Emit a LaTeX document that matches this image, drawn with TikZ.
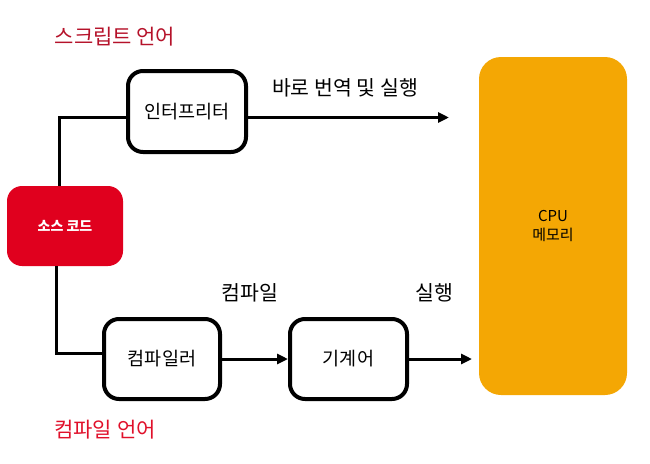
\documentclass[tikz,border=0pt]{standalone}
\usepackage{fontspec}
\setmainfont{Noto Sans CJK KR}
\usetikzlibrary{arrows.meta}
\definecolor{srcred}{HTML}{E0001E}
\definecolor{titlered}{HTML}{B5122A}
\definecolor{titlered2}{HTML}{E0102A}
\definecolor{cpuorange}{HTML}{F4A704}
\tikzset{
  procbox/.style={draw=black, line width=4pt, rounded corners=15pt, fill=white,
    inner sep=0pt, font=\fontsize{18.5}{22}\selectfont},
  conn/.style={line width=3pt},
  arr/.style={line width=3pt, -{Triangle[length=11pt,width=10pt]}},
  lbl/.style={font=\fontsize{20.5}{24}\selectfont},
  ttl/.style={font=\fontsize{21}{25}\selectfont},
}
\begin{document}
\begin{tikzpicture}[x=1pt,y=-1pt]
\useasboundingbox (0,0) rectangle (650,463);
% title labels
\node[ttl, text=titlered] (t1) at (115,37) {스크립트 언어};
\node[ttl, text=titlered2] (t2) at (105,430) {컴파일 언어};
% source code
\node[fill=srcred, rounded corners=15pt, minimum width=116pt, minimum height=80pt,
  text=white, font=\fontsize{14}{16}\selectfont\bfseries] (src) at (65,226) {소스 코드};
% interpreter
\node[procbox, minimum width=118pt, minimum height=81pt] (interp) at (187,111.5) {인터프리터};
% compiler
\node[procbox, minimum width=116pt, minimum height=80pt] (comp) at (162,359) {컴파일러};
% machine code
\node[procbox, minimum width=117pt, minimum height=80pt] (mach) at (348.5,359) {기계어};
% cpu
\node[fill=cpuorange, rounded corners=22pt, minimum width=148pt, minimum height=338pt,
  align=center, font=\fontsize{15}{19}\selectfont] (cpu) at (553,226) {CPU\\메모리};
% connectors
\draw[conn] ([xshift=-6pt]src.north) |- ([yshift=-6pt]interp.west);
\draw[conn] ([xshift=-9pt]src.south) |- ([yshift=6pt]comp.west);
\coordinate (e1) at (449,117.5);
\draw[arr] (interp.east |- e1) -- (e1);
\draw[arr] (comp.east) -- (mach.west);
\coordinate (e2) at (472,359);
\draw[arr] (mach.east) -- (e2);
% edge labels
\node[lbl] (l1) at (345,88) {바로 번역 및 실행};
\node[lbl] (l2) at (250,293) {컴파일};
\node[lbl] (l3) at (434,293) {실행};
\end{tikzpicture}
\end{document}
